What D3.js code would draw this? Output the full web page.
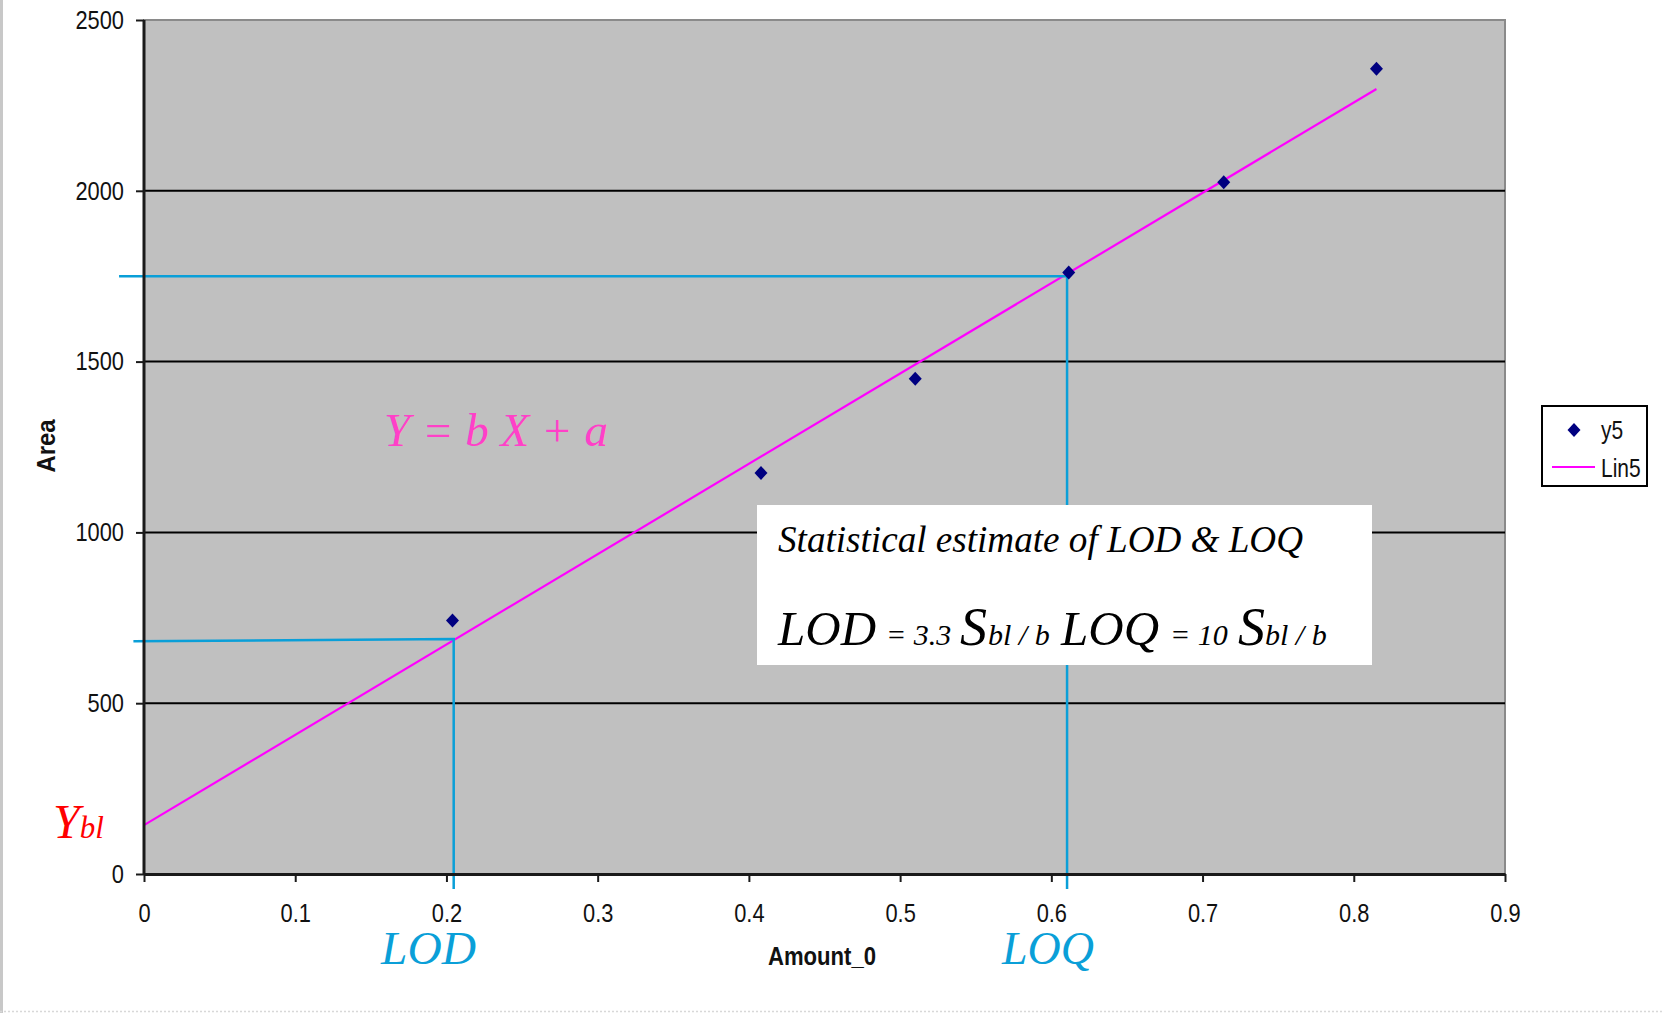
<!DOCTYPE html>
<html>
<head>
<meta charset="utf-8">
<script src="https://cdn.jsdelivr.net/npm/d3@7"></script>
<style>
  html, body { margin: 0; padding: 0; background: #ffffff; }
  svg { display: block; }
  .tick text { font-family: "Liberation Sans", Arial, sans-serif; font-size: 26px; fill: #111; }
  .serif { font-family: "Liberation Serif", "Times New Roman", serif; font-style: italic; }
</style>
</head>
<body>
<svg id="chart" width="1663" height="1013"></svg>
<script>
// ---- data ----
const pointsX = [0.204, 0.408, 0.510, 0.6115, 0.714, 0.815];
const pointsY = [742, 1174, 1450, 1761, 2025, 2357];
const trendX = [0, 0.815];
const trendY = [143, 2298];
const lodGuideX = [-0.007, 0.2048, 0.2048];
const lodGuideY = [681, 688, -44];
const loqGuideX = [-0.0165, 0.6104, 0.6104];
const loqGuideY = [1750, 1750, -44];
const xTicks = [0, 0.1, 0.2, 0.3, 0.4, 0.5, 0.6, 0.7, 0.8, 0.9];
const yTicks = [0, 500, 1000, 1500, 2000, 2500];
const gridY = [500, 1000, 1500, 2000];
const legendLabels = ["y5", "Lin5"];

// ---- layout ----
const plot = { left: 144, right: 1505, top: 20, bottom: 874 };
const svg = d3.select("#chart");

// condense text horizontally (narrow sans look)
function narrow(sel, factor) {
  sel.each(function () {
    const len = this.getComputedTextLength();
    d3.select(this).attr("textLength", len * factor).attr("lengthAdjust", "spacingAndGlyphs");
  });
}
function fitWidth(sel, w) {
  sel.attr("textLength", w).attr("lengthAdjust", "spacingAndGlyphs");
}

// page decorations
svg.append("line").attr("x1", 1.5).attr("x2", 1.5).attr("y1", 0).attr("y2", 1013)
  .attr("stroke", "#c8c8c8").attr("stroke-width", 3);
svg.append("line").attr("x1", 0).attr("x2", 1663).attr("y1", 1011.5).attr("y2", 1011.5)
  .attr("stroke", "#d8d8d8").attr("stroke-width", 1.5).attr("stroke-dasharray", "2,2");

const x = d3.scaleLinear().domain([0, 0.9]).range([plot.left, plot.right]);
const y = d3.scaleLinear().domain([0, 2500]).range([plot.bottom, plot.top]);

// plot background
svg.append("rect").attr("x", plot.left).attr("y", plot.top)
  .attr("width", plot.right - plot.left).attr("height", plot.bottom - plot.top)
  .attr("fill", "#c0c0c0").attr("stroke", "#8a8a8a").attr("stroke-width", 2);

// gridlines
svg.append("g").selectAll("line").data(gridY).join("line")
  .attr("x1", plot.left).attr("x2", plot.right)
  .attr("y1", d => y(d)).attr("y2", d => y(d))
  .attr("stroke", "#000").attr("stroke-width", 2);

// trend line
const line = d3.line().x(d => x(d[0])).y(d => y(d[1]));
svg.append("path").datum(d3.zip(trendX, trendY)).attr("d", line)
  .attr("fill", "none").attr("stroke", "#ff00ff").attr("stroke-width", 2.2);

// guide lines
[[lodGuideX, lodGuideY], [loqGuideX, loqGuideY]].forEach(([gx, gy]) => {
  svg.append("path").datum(d3.zip(gx, gy)).attr("d", line)
    .attr("fill", "none").attr("stroke", "#0a9fd8").attr("stroke-width", 2.5);
});

// axes
const yAxis = svg.append("g").attr("transform", `translate(${plot.left},0)`)
  .call(d3.axisLeft(y).tickValues(yTicks).tickSize(8).tickPadding(12).tickSizeOuter(0).tickFormat(d3.format("d")));
const xAxis = svg.append("g").attr("transform", `translate(0,${plot.bottom})`)
  .call(d3.axisBottom(x).tickValues(xTicks).tickSize(8).tickPadding(22).tickSizeOuter(0).tickFormat(d => d === 0 ? "0" : d3.format(".1f")(d)));
[yAxis, xAxis].forEach(a => {
  a.select(".domain").attr("stroke", "#1a1a1a").attr("stroke-width", 3);
  a.selectAll(".tick line").attr("stroke", "#1a1a1a").attr("stroke-width", 2);
  narrow(a.selectAll(".tick text"), 0.84);
});
yAxis.select(".domain").attr("d", `M0,${plot.top}V${plot.bottom + 1}`);

// points
svg.append("g").selectAll("path").data(d3.zip(pointsX, pointsY)).join("path")
  .attr("transform", d => `translate(${x(d[0])},${y(d[1])})`)
  .attr("d", "M0,-7L6.5,0L0,7L-6.5,0Z")
  .attr("fill", "#000080");

// axis titles
const sans = '"Liberation Sans", Arial, sans-serif';
svg.append("text").attr("transform", "translate(55,446) rotate(-90)")
  .attr("text-anchor", "middle").attr("font-family", sans).attr("font-weight", "bold")
  .attr("font-size", 25).attr("fill", "#111").text("Area").call(fitWidth, 53);
svg.append("text").attr("x", 822).attr("y", 965)
  .attr("text-anchor", "middle").attr("font-family", sans).attr("font-weight", "bold")
  .attr("font-size", 25).attr("fill", "#111").text("Amount_0").call(fitWidth, 108);

// legend
const lg = svg.append("g");
lg.append("rect").attr("x", 1542).attr("y", 406).attr("width", 105).attr("height", 80)
  .attr("fill", "#fff").attr("stroke", "#000").attr("stroke-width", 2);
lg.append("path").attr("transform", "translate(1574,430)").attr("d", "M0,-7L6.5,0L0,7L-6.5,0Z").attr("fill", "#000080");
lg.append("line").attr("x1", 1552).attr("x2", 1595).attr("y1", 467).attr("y2", 467)
  .attr("stroke", "#ff00ff").attr("stroke-width", 2);
lg.selectAll("text.lbl").data(legendLabels).join("text").attr("class", "lbl")
  .attr("x", 1601).attr("y", (d, i) => i === 0 ? 439 : 477)
  .attr("font-family", sans).attr("font-size", 25).attr("fill", "#111").text(d => d)
  .call(narrow, 0.84);

// annotations
svg.append("text").attr("class", "serif").attr("x", 384).attr("y", 446)
  .attr("font-size", 46).attr("fill", "#ff40c8").text("Y = b X + a").call(fitWidth, 224);

const ybl = svg.append("text").attr("class", "serif").attr("x", 53).attr("y", 838).attr("fill", "#ff0000");
ybl.append("tspan").attr("font-size", 48).text("Y");
ybl.append("tspan").attr("font-size", 31).text("bl");

svg.append("text").attr("class", "serif").attr("x", 381).attr("y", 964)
  .attr("font-size", 46).attr("fill", "#0a9fd8").text("LOD").call(fitWidth, 95);
svg.append("text").attr("class", "serif").attr("x", 1002).attr("y", 964)
  .attr("font-size", 46).attr("fill", "#0a9fd8").text("LOQ").call(fitWidth, 92);

// white box
svg.append("rect").attr("x", 757).attr("y", 505).attr("width", 615).attr("height", 160).attr("fill", "#ffffff");
svg.append("text").attr("class", "serif").attr("x", 778).attr("y", 552)
  .attr("font-size", 37).attr("fill", "#000").text("Statistical estimate of LOD & LOQ").call(fitWidth, 525);
const f = svg.append("text").attr("class", "serif").attr("y", 645).attr("fill", "#000");
[["LOD", 778, 49], ["= 3.3", 886, 30], ["S", 960, 54], ["bl / b", 988, 30],
 ["LOQ", 1061, 49], ["= 10", 1170, 30], ["S", 1238, 54], ["bl / b", 1265, 30]]
  .forEach(([t, px, fs]) => f.append("tspan").attr("x", px).attr("font-size", fs).text(t));
</script>
</body>
</html>
